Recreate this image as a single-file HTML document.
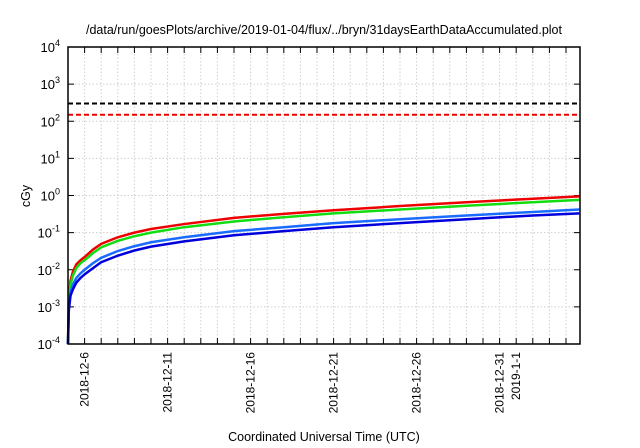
<!DOCTYPE html>
<html><head><meta charset="utf-8"><style>
body{margin:0;background:#fff}
svg{display:block;font-family:"Liberation Sans",sans-serif}
</style></head><body>
<svg id="c" width="640" height="448"></svg>
<script>
const days=[0,0.05,0.15,0.3,0.5,0.75,1,1.5,2,3,4,5,7,10,13,16,20,24,28,30.8];
const redVals=[0.0001,0.002,0.005,0.009,0.014,0.018,0.022,0.035,0.05,0.075,0.1,0.125,0.17,0.25,0.32,0.4,0.52,0.66,0.82,0.95];
const greenVals=[0.0001,0.0016,0.004,0.007,0.011,0.015,0.018,0.028,0.04,0.06,0.08,0.1,0.14,0.2,0.26,0.33,0.42,0.53,0.66,0.76];
const lblueVals=[0.0001,0.001,0.0025,0.004,0.006,0.008,0.01,0.015,0.021,0.032,0.043,0.055,0.075,0.11,0.14,0.18,0.23,0.29,0.36,0.42];
const blueVals=[0.0001,0.0008,0.002,0.003,0.0045,0.006,0.0075,0.011,0.016,0.024,0.033,0.042,0.058,0.085,0.11,0.14,0.18,0.23,0.29,0.33];
const hLines=[300,150];
const yTicks=[-4,-3,-2,-1,0,1,2,3,4];
const xLabels=["2018-12-6","2018-12-11","2018-12-16","2018-12-21","2018-12-26","2018-12-31","2019-1-1"];
const xLabelDays=[1,6,11,16,21,26,27];
const L=68,R=580,T=47,B=344,DAYPX=16.6;
const X=d=>L+d*DAYPX;
const Y=v=>B-(Math.log10(v)+4)*(B-T)/8;
const svg=document.getElementById('c');const NS='http://www.w3.org/2000/svg';
function mk(t,a,p){const e=document.createElementNS(NS,t);for(const k in a)e.setAttribute(k,a[k]);(p||svg).appendChild(e);return e;}
for(let d=1;d<=30;d++){const g=mk('line',{x1:X(d),x2:X(d),y1:T,y2:B,stroke:'#cfcfcf','stroke-dasharray':'1.5,2','stroke-width':1});


const t=mk('line',{x1:X(d),x2:X(d),y1:B,y2:B-6,stroke:'#000'});
const t2=mk('line',{x1:X(d),x2:X(d),y1:T,y2:T+6,stroke:'#000'});}
yTicks.forEach(p=>{const y=Y(Math.pow(10,p));
if(p>-4&&p<4){const g=mk('line',{x1:L,x2:R,y1:y,y2:y,stroke:'#cfcfcf','stroke-dasharray':'1.5,2'});}
const a=mk('line',{x1:L,x2:L+6,y1:y,y2:y,stroke:'#000'});
const b=mk('line',{x1:R,x2:R-6,y1:y,y2:y,stroke:'#000'});
const t=mk('text',{x:L-8,y:y+5,'text-anchor':'end','font-size':13});
t.textContent='10';const s=mk('tspan',{dy:-6,'font-size':9},t);s.textContent=String(p);});
xLabels.forEach((s,i)=>{const x=X(xLabelDays[i])+4;const t=mk('text',{x:x,y:352,'text-anchor':'end','font-size':12,transform:`rotate(-90 ${x} 352)`});
t.textContent=s;});
[['#000'],['#e00']].forEach((c,i)=>{const y=Y(hLines[i]);const l=mk('line',{x1:L,x2:R,y1:y,y2:y,stroke:c[0],'stroke-width':2,'stroke-dasharray':'5,3'});
});
[[redVals,'#e00','red'],[greenVals,'#1d1','green'],[lblueVals,'#1a6cff','light-blue'],[blueVals,'#00d','blue']].forEach(([v,c,n])=>{
const p=mk('polyline',{points:days.map((d,i)=>X(d)+','+Y(v[i])).join(' '),fill:'none',stroke:c,'stroke-width':2.5});
});
const fr=mk('rect',{x:L,y:T,width:R-L,height:B-T,fill:'none',stroke:'#000','stroke-width':1.5});
const ti=mk('text',{x:324,y:34,'text-anchor':'middle','font-size':12.5});
ti.textContent='/data/run/goesPlots/archive/2019-01-04/flux/../bryn/31daysEarthDataAccumulated.plot';
const xl=mk('text',{x:324,y:441,'text-anchor':'middle','font-size':12.5});
xl.textContent='Coordinated Universal Time (UTC)';
const yl=mk('text',{x:30,y:196,'text-anchor':'middle','font-size':12.5,transform:'rotate(-90 30 196)'});
yl.textContent='cGy';
</script>
</body></html>
